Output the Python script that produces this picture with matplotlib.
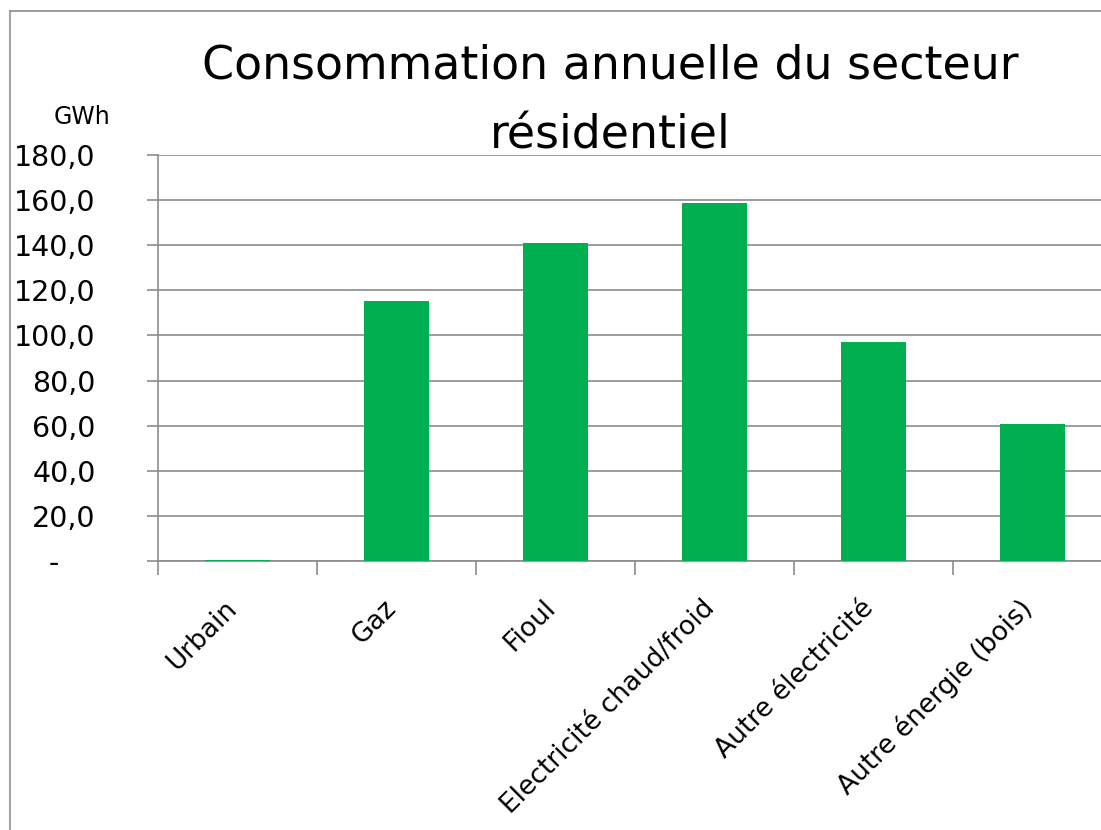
import numpy as np
import matplotlib
matplotlib.use('Agg')
import matplotlib.pyplot as plt
import matplotlib.transforms as mtransforms
from matplotlib.lines import Line2D

categories = ['Urbain', 'Gaz', 'Fioul', 'Electricité chaud/froid',
              'Autre électricité', 'Autre énergie (bois)']
values = [0.5, 115.3, 141.0, 158.7, 97.1, 60.7]
yticks = [0, 20, 40, 60, 80, 100, 120, 140, 160, 180]
ytick_labels = ['-    '] + [f"{v},0" for v in yticks[1:]]

plt.rcParams['font.family'] = ['DejaVu Sans']

W, H = 1101, 830
fig = plt.figure(figsize=(W / 100, H / 100), dpi=100)
fig.patch.set_facecolor('white')

# outer frame (only top and left visible)
fig.add_artist(Line2D([10 / W, 10 / W], [0, 1 - 11 / H], transform=fig.transFigure,
                      color='#a6a6a6', lw=1.5))
fig.add_artist(Line2D([10 / W, 1], [1 - 11 / H, 1 - 11 / H], transform=fig.transFigure,
                      color='#8c8c8c', lw=1.2))

ax = fig.add_axes([158 / W, 1 - 561 / H, (1112 - 158) / W, (561 - 155) / H])
x = np.arange(len(categories))
ax.bar(x, values, width=0.41, color='#00B050', zorder=3)

ax.set_xlim(-0.5, len(categories) - 0.5)
ax.set_ylim(0, 180)
ax.set_yticks(yticks)
ax.set_yticklabels(ytick_labels, fontsize=20.5)
ax.yaxis.grid(True, color='#8c8c8c', lw=1.2, zorder=0)
ax.tick_params(axis='y', length=8, color='#8c8c8c', width=1.2, pad=37)

ax.set_xticks(x)
ax.set_xticklabels(categories, fontsize=19, rotation=45, ha='right',
                   rotation_mode='anchor', va='center')
ax.tick_params(axis='x', which='major', length=0, pad=31)
shift = mtransforms.ScaledTranslation(-4 / 100, 0, fig.dpi_scale_trans)
for lbl in ax.get_xticklabels():
    lbl.set_transform(lbl.get_transform() + shift)
ax.set_xticks(np.arange(len(categories)) - 0.5, minor=True)
ax.tick_params(axis='x', which='minor', length=10, color='#8c8c8c', width=1.2)

for s in ['top', 'right']:
    ax.spines[s].set_visible(False)
for s in ['left', 'bottom']:
    ax.spines[s].set_color('#8c8c8c')
    ax.spines[s].set_linewidth(1.2)

fig.text(610 / W, 1 - 101 / H, 'Consommation annuelle du secteur\nrésidentiel',
         ha='center', va='center', fontsize=33, linespacing=1.7)
fig.text(82 / W, 1 - 117 / H, 'GWh', ha='center', va='center', fontsize=17)

fig.savefig('out.png', dpi=100)
